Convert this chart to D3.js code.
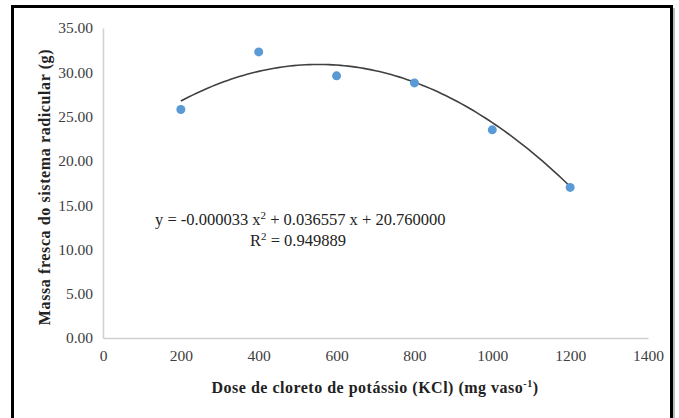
<!DOCTYPE html>
<html>
<head>
<meta charset="utf-8">
<script src="https://cdn.jsdelivr.net/npm/d3@7"></script>
<style>
  body { margin: 0; background: #fff; }
  svg text { font-family: "Liberation Serif", "Times New Roman", serif; }
</style>
</head>
<body>
<div id="chart"></div>
<script>
// data
const doses = [200, 400, 600, 800, 1000, 1200];
const massa = [25.8, 32.3, 29.6, 28.8, 23.5, 17.0];
const xTicks = [0, 200, 400, 600, 800, 1000, 1200, 1400];
const yTicks = [0, 5, 10, 15, 20, 25, 30, 35];
// regression coefficients shown on the chart (a x^2 + b x + c)
const coef = [-0.000033, 0.036557, 20.76];
const fitDoses = d3.range(200, 1201, 10);

const width = 679, height = 418;
const margin = {top: 28, right: 31, bottom: 80, left: 103};

const svg = d3.select("#chart").append("svg")
    .attr("width", width)
    .attr("height", height);

// outer frame
svg.append("rect")
    .attr("x", 673).attr("y", 8).attr("width", 2).attr("height", 420)
    .attr("fill", "#bbb");
svg.append("path")
    .attr("d", "M12.5,425 V6.5 H671.5 V425")
    .attr("fill", "none")
    .attr("stroke", "#000")
    .attr("stroke-width", 3);

const x = d3.scaleLinear()
    .domain([0, 1400])
    .range([margin.left, width - margin.right]);

const y = d3.scaleLinear()
    .domain([0, 35])
    .range([height - margin.bottom, margin.top]);

// axes
const xAxis = svg.append("g")
    .attr("transform", `translate(0,${y(0)})`)
    .call(d3.axisBottom(x).tickValues(xTicks).tickSize(0).tickPadding(12)
        .tickFormat(d3.format("d")));
xAxis.select(".domain").attr("stroke", "#d0d0d0").attr("stroke-width", 1.5);
xAxis.selectAll("text").attr("font-size", 15.5).attr("fill", "#404040")
    .attr("font-family", "Liberation Serif");

const yAxis = svg.append("g")
    .attr("transform", `translate(${x(0)},0)`)
    .call(d3.axisLeft(y).tickValues(yTicks).tickSize(0).tickPadding(10)
        .tickFormat(d3.format(".2f")));
yAxis.select(".domain").attr("stroke", "#d0d0d0").attr("stroke-width", 1.5);
yAxis.selectAll("text").attr("font-size", 15.5).attr("fill", "#404040")
    .attr("font-family", "Liberation Serif");

// trend line
svg.append("path")
    .datum(fitDoses)
    .attr("fill", "none")
    .attr("stroke", "#404040")
    .attr("stroke-width", 1.6)
    .attr("d", d3.line()
        .x(d => x(d))
        .y(d => y(coef[0] * d * d + coef[1] * d + coef[2])));

// points
svg.selectAll(".pt")
    .data(doses)
    .join("circle")
    .attr("class", "pt")
    .attr("cx", d => x(d))
    .attr("cy", (d, i) => y(massa[i]))
    .attr("r", 4.5)
    .attr("fill", "#5b9bd5");

// equation
const eq = svg.append("text")
    .attr("x", 155).attr("y", 225)
    .attr("font-size", 16.5)
    .attr("fill", "#222");
eq.append("tspan").text("y = -0.000033 x");
eq.append("tspan").attr("dy", -6).attr("font-size", 11).text("2");
eq.append("tspan").attr("dy", 6).text(" + 0.036557 x + 20.760000");

const r2 = svg.append("text")
    .attr("x", 250).attr("y", 246)
    .attr("font-size", 16.5)
    .attr("fill", "#222");
r2.append("tspan").text("R");
r2.append("tspan").attr("dy", -6).attr("font-size", 11).text("2");
r2.append("tspan").attr("dy", 6).text(" = 0.949889");

// axis titles
const xt = svg.append("text")
    .attr("x", 375).attr("y", 393)
    .attr("text-anchor", "middle")
    .attr("font-size", 16)
    .attr("font-weight", "bold")
    .attr("letter-spacing", 0.5)
    .attr("fill", "#222");
xt.append("tspan").text("Dose de cloreto de potássio (KCl) (mg vaso");
xt.append("tspan").attr("dy", -6).attr("font-size", 10).text("-1");
xt.append("tspan").attr("dy", 6).text(")");

svg.append("text")
    .attr("transform", "translate(50,187) rotate(-90)")
    .attr("text-anchor", "middle")
    .attr("font-size", 16)
    .attr("font-weight", "bold")
    .attr("letter-spacing", 0.6)
    .attr("fill", "#222")
    .text("Massa fresca do sistema radicular (g)");
</script>
</body>
</html>
